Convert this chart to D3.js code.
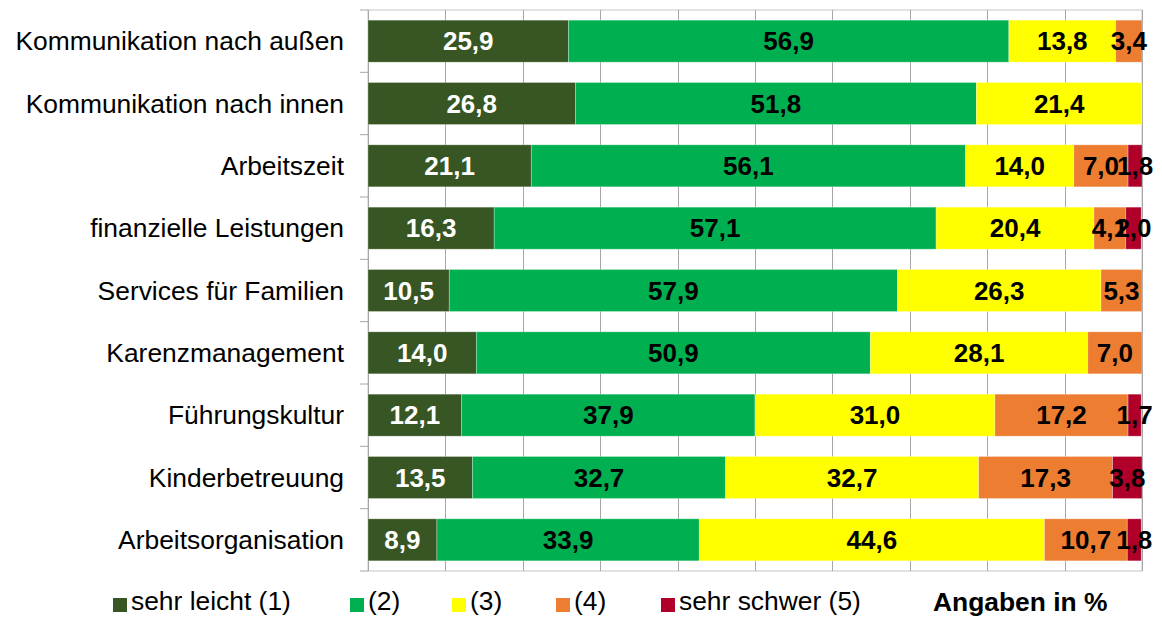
<!DOCTYPE html>
<html>
<head>
<meta charset="utf-8">
<script src="https://cdn.jsdelivr.net/npm/d3@7"></script>
<style>
  body { margin: 0; background: #fff; }
  svg { display: block; font-family: Arial, "Liberation Sans", sans-serif; }
</style>
</head>
<body>
<svg id="chart"></svg>
<script>
const categories = [
  'Kommunikation nach außen',
  'Kommunikation nach innen',
  'Arbeitszeit',
  'finanzielle Leistungen',
  'Services für Familien',
  'Karenzmanagement',
  'Führungskultur',
  'Kinderbetreuung',
  'Arbeitsorganisation'
];
const seriesNames = ['sehr leicht (1)', '(2)', '(3)', '(4)', 'sehr schwer (5)'];
const s1 = [25.9, 26.8, 21.1, 16.3, 10.5, 14.0, 12.1, 13.5, 8.9];
const s2 = [56.9, 51.8, 56.1, 57.1, 57.9, 50.9, 37.9, 32.7, 33.9];
const s3 = [13.8, 21.4, 14.0, 20.4, 26.3, 28.1, 31.0, 32.7, 44.6];
const s4 = [3.4, 0, 7.0, 4.1, 5.3, 7.0, 17.2, 17.3, 10.7];
const s5 = [0, 0, 1.8, 2.0, 0, 0, 1.7, 3.8, 1.8];
const xTicks = [0, 10, 20, 30, 40, 50, 60, 70, 80, 90, 100];
const note = 'Angaben in %';

const colors = ['#375623', '#00b050', '#ffff00', '#ed7d31', '#b0002a'];
const labelColors = ['#fff', '#000', '#000', '#000', '#000'];

const width = 1162, height = 618;
const margin = { top: 10, right: 20, bottom: 47, left: 368 };

const svg = d3.select('#chart').attr('width', width).attr('height', height);

const rows = categories.map((c, i) => {
  const vals = [s1[i], s2[i], s3[i], s4[i], s5[i]];
  return { cat: c, vals };
});

const x = d3.scaleLinear().domain([0, 100]).range([margin.left, width - margin.right]);
const y = d3.scaleBand().domain(categories)
  .range([margin.top, height - margin.bottom])
  .paddingInner(0.326).paddingOuter(0.163);

// plot border
svg.append('rect')
  .attr('x', x(0)).attr('y', margin.top)
  .attr('width', x(100) - x(0)).attr('height', height - margin.bottom - margin.top)
  .attr('fill', 'none').attr('stroke', '#d9d9d9').attr('stroke-width', 1.5);

// grid
svg.append('g').selectAll('line').data(xTicks).join('line')
  .attr('x1', d => Math.round(x(d)) + 0.5).attr('x2', d => Math.round(x(d)) + 0.5)
  .attr('y1', margin.top).attr('y2', height - margin.bottom)
  .attr('stroke', '#a6a6a6').attr('stroke-width', 1);

// y axis
const yAxis = svg.append('g')
  .attr('transform', `translate(${x(0)},0)`);
yAxis.append('line')
  .attr('x1', 0.5).attr('x2', 0.5)
  .attr('y1', margin.top).attr('y2', height - margin.bottom)
  .attr('stroke', '#a6a6a6');
const step = y.step();
yAxis.selectAll('line.tick').data(d3.range(categories.length + 1)).join('line')
  .attr('class', 'tick')
  .attr('x1', -8).attr('x2', 0)
  .attr('y1', i => margin.top + i * step).attr('y2', i => margin.top + i * step)
  .attr('stroke', '#a6a6a6');
yAxis.selectAll('text').data(categories).join('text')
  .attr('x', -24)
  .attr('y', d => y(d) + y.bandwidth() / 2)
  .attr('dy', '0.35em')
  .attr('text-anchor', 'end')
  .attr('font-size', 26.4)
  .attr('fill', '#000')
  .text(d => d);

// bars
const fmt = v => v.toFixed(1).replace('.', ',');
rows.forEach(r => {
  let acc = 0;
  const segs = r.vals.map((v, k) => {
    const s = { k, v, x0: acc, x1: acc + v };
    acc += v;
    return s;
  }).filter(s => s.v > 0);

  const g = svg.append('g');
  g.selectAll('rect').data(segs).join('rect')
    .attr('x', d => x(d.x0))
    .attr('width', d => x(d.x1) - x(d.x0))
    .attr('y', y(r.cat))
    .attr('height', y.bandwidth())
    .attr('fill', d => colors[d.k])
    .attr('stroke', 'rgba(255,255,255,0.35)')
    .attr('stroke-width', 0.8);
  g.selectAll('text').data(segs).join('text')
    .attr('x', d => (x(d.x0) + x(d.x1)) / 2)
    .attr('y', y(r.cat) + y.bandwidth() / 2)
    .attr('dy', '0.35em')
    .attr('text-anchor', 'middle')
    .attr('font-size', 26)
    .attr('font-weight', 'bold')
    .attr('fill', d => labelColors[d.k])
    .text(d => fmt(d.v));
});

// legend
const legendX = [113, 350, 452, 556, 661];
const legend = svg.append('g');
seriesNames.forEach((name, k) => {
  legend.append('rect')
    .attr('x', legendX[k]).attr('y', 598)
    .attr('width', 14).attr('height', 14)
    .attr('fill', colors[k]);
  legend.append('text')
    .attr('x', legendX[k] + 18).attr('y', 610)
    .attr('font-size', 26.4)
    .attr('fill', '#000')
    .text(name);
});
legend.append('text')
  .attr('x', 933).attr('y', 611)
  .attr('font-size', 26.4)
  .attr('font-weight', 'bold')
  .attr('fill', '#000')
  .text(note);
</script>
</body>
</html>
